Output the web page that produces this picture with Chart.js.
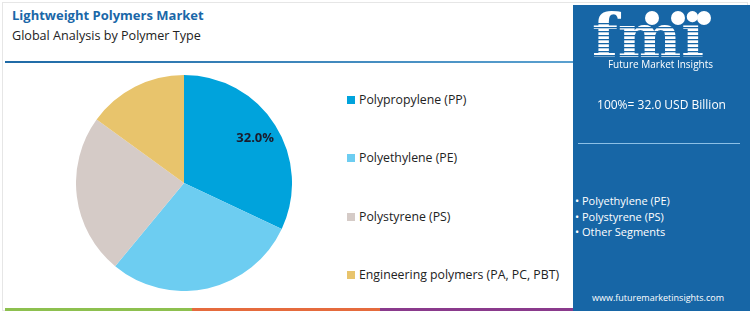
<!DOCTYPE html>
<html>
<head>
<meta charset="utf-8">
<script src="https://cdn.jsdelivr.net/npm/chart.js@4.4.1/dist/chart.umd.min.js"></script>
<style>
  html, body { margin: 0; padding: 0; background: #fff; }
  body { width: 750px; height: 311px; position: relative; overflow: hidden; font-family: 'Open Sans', sans-serif; }
  .card { position: absolute; left: 2px; top: 2px; width: 746px; height: 309px; border: 1px solid #e6e6e6; box-sizing: border-box; }
  .title { position: absolute; left: 12px; top: 6px; font-size: 13px; font-weight: 700; color: #1a67a8; }
  .subtitle { position: absolute; left: 12px; top: 27px; font-size: 12.6px; color: #222; }
  .rule { position: absolute; left: 5px; top: 61px; width: 568px; height: 2px; background: linear-gradient(90deg, #1f6aa6, #5aa0cf); }
  #pie-wrap { position: absolute; left: 76px; top: 75px; width: 216px; height: 216px; }
  .legend { position: absolute; left: 347px; top: 0; }
  .legend div { position: absolute; white-space: nowrap; font-size: 12.3px; color: #222; }
  .legend span { display: inline-block; width: 8px; height: 8px; margin-right: 4px; vertical-align: 0px; }
  .panel { position: absolute; left: 573px; top: 5px; width: 177px; height: 306px; background: #1766a6; color: #fff; }
  .panel .total { position: absolute; left: 0; width: 177px; top: 91px; text-align: center; font-size: 12px; }
  .panel .line { position: absolute; left: 5px; top: 138px; width: 162px; height: 1px; background: #8cc0e6; }
  .panel .bullets { position: absolute; left: 2px; top: 188px; font-size: 11px; line-height: 15.5px; }
  .panel .site { position: absolute; left: 0; width: 170px; top: 286px; text-align: center; font-size: 9px; }
  .panel .brand { position: absolute; left: 0; width: 175px; top: 52px; text-align: center; font-size: 10px; }
  .logo { position: absolute; left: 17px; top: 4px; }
  .stripe { position: absolute; top: 308px; height: 3px; }
</style>
</head>
<body>
<div class="card"></div>
<div class="title">Lightweight Polymers Market</div>
<div class="subtitle">Global Analysis by Polymer Type</div>
<div class="rule"></div>
<div id="pie-wrap"><canvas id="pie"></canvas></div>
<div class="legend" id="legend"></div>
<div class="panel">
  <canvas class="logo" id="logo" width="140" height="50"></canvas>
  <div class="brand">Future Market Insights</div>
  <div class="total" id="total"></div>
  <div class="line"></div>
  <div class="bullets" id="bullets"></div>
  <div class="site">www.futuremarketinsights.com</div>
</div>
<div class="stripe" style="left:5px;width:187px;background:#8dc04f"></div>
<div class="stripe" style="left:192px;width:188px;background:#e56b3d"></div>
<div class="stripe" style="left:380px;width:193px;background:#8a3a8c"></div>

<script>
// polymer type share
const segments = ['Polypropylene (PP)', 'Polyethylene (PE)', 'Polystyrene (PS)', 'Engineering polymers (PA, PC, PBT)']
const shares = [32, 29, 24, 15]
const colors = ['#00a3dc', '#6dcdf1', '#d5cbc7', '#e8c46c']
const legendTops = [91, 149, 208, 266]
const marketTotal = '100%= 32.0 USD Billion'
const panelItems = ['Polyethylene (PE)', 'Polystyrene (PS)', 'Other Segments']

// html legend
const legend = document.getElementById('legend')
segments.forEach(function (name, i) {
  const row = document.createElement('div')
  row.style.top = legendTops[i] + 'px'
  row.innerHTML = '<span style="background:' + colors[i] + '"></span>' + name
  legend.appendChild(row)
})

document.getElementById('total').textContent = marketTotal
document.getElementById('bullets').innerHTML = panelItems.map(function (t) { return '\u2022 ' + t }).join('<br>')

// label only the first slice
const firstLabel = {
  id: 'firstLabel',
  afterDatasetsDraw(chart) {
    const arc = chart.getDatasetMeta(0).data[0]
    const mid = (arc.startAngle + arc.endAngle) / 2
    const r = arc.outerRadius * 0.78
    const ctx = chart.ctx
    ctx.save()
    ctx.font = 'bold 13px "Open Sans"'
    ctx.fillStyle = '#1b1b2b'
    ctx.textAlign = 'center'
    ctx.textBaseline = 'middle'
    ctx.fillText(shares[0].toFixed(1) + '%', arc.x + Math.cos(mid) * r, arc.y + Math.sin(mid) * r)
    ctx.restore()
  },
}

const ctx = document.getElementById('pie').getContext('2d')
const pieChart = new Chart(ctx, {
  type: 'pie',
  data: {
    labels: segments,
    datasets: [
      {
        data: shares,
        backgroundColor: colors,
        borderWidth: 0,
        hoverOffset: 0,
      },
    ],
  },
  options: {
    responsive: true,
    maintainAspectRatio: false,
    animation: false,
    plugins: {
      legend: { display: false },
      tooltip: { enabled: false },
    },
  },
  plugins: [firstLabel],
})

// rough fmi logo
const lg = document.getElementById('logo').getContext('2d')
lg.fillStyle = '#fff'
lg.font = 'bold 60px "DejaVu Serif"'
lg.textBaseline = 'alphabetic'
lg.fillText('fmi', 2, 48)
lg.fillStyle = '#1766a6'
for (let y = 14; y < 50; y += 4) {
  lg.fillRect(0, y, 140, 1.3)
}
lg.fillStyle = '#fff'
;[[62, 9], [88, 9], [114, 9]].forEach(function (p) {
  lg.beginPath()
  lg.arc(p[0], p[1], 7, 0, Math.PI * 2)
  lg.fill()
})
</script>
</body>
</html>
